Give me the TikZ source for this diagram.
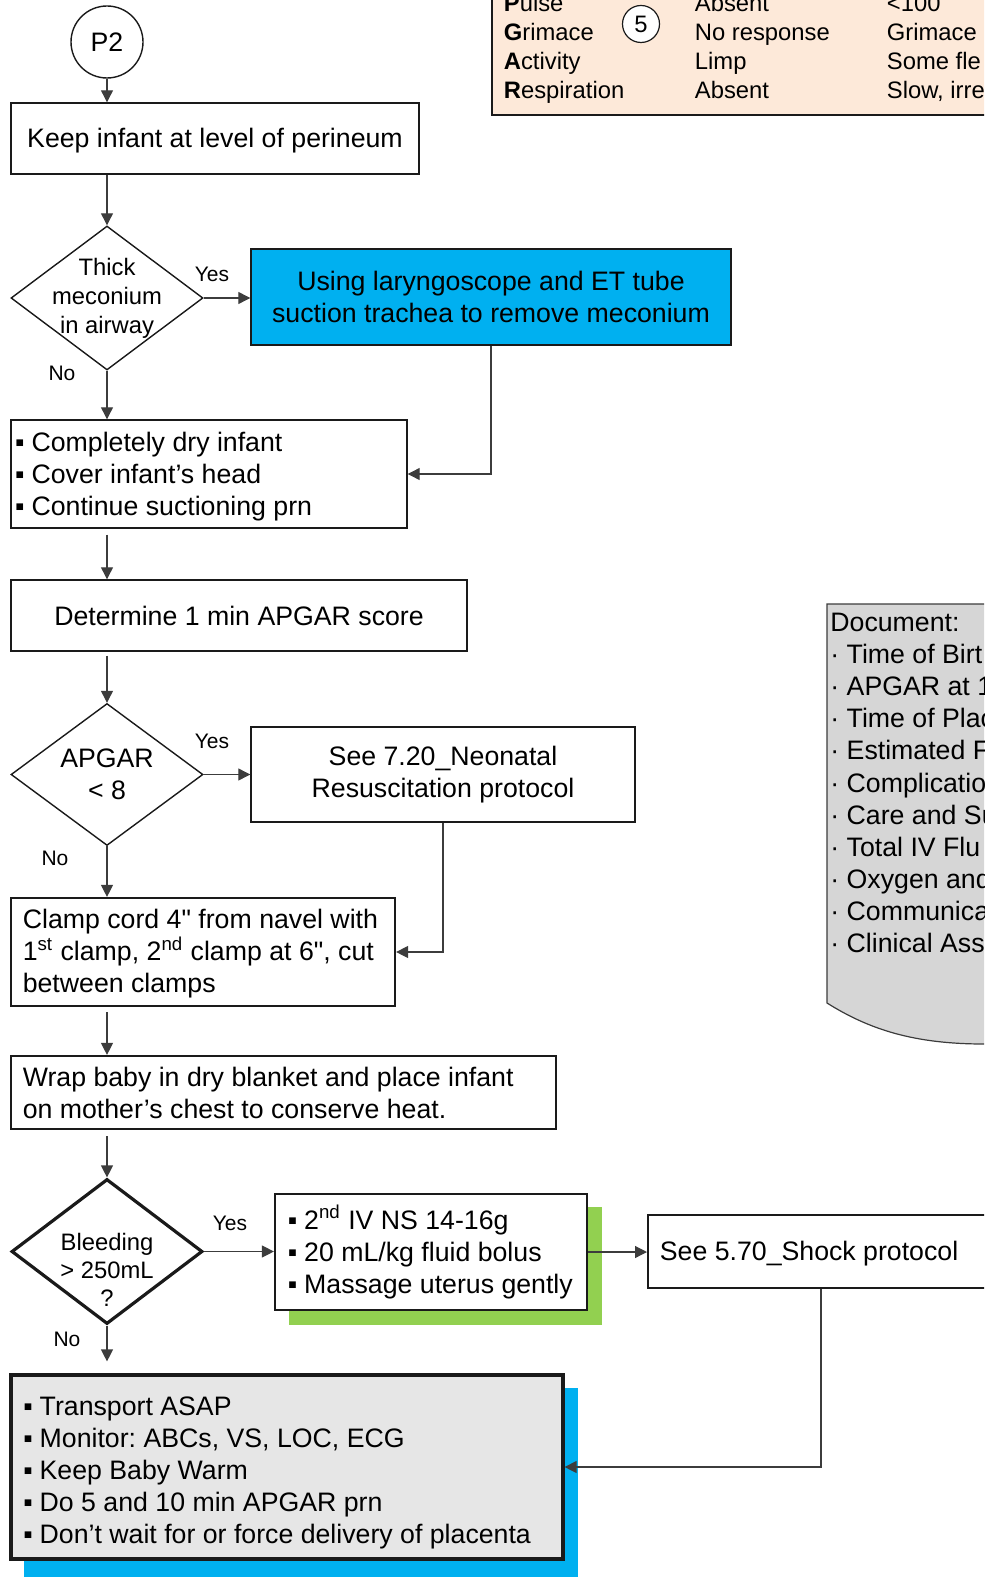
\documentclass[tikz,border=0pt]{standalone}
\usepackage{fontspec}
\setmainfont{Liberation Sans}[Ligatures=TeXOff]
\usetikzlibrary{shapes.geometric,arrows.meta,calc}

\definecolor{cyanfill}{HTML}{00B0F0}
\definecolor{greenshade}{HTML}{92D050}
\definecolor{peach}{HTML}{FDE9D9}
\definecolor{docgray}{HTML}{D6D6D6}
\definecolor{boxgray}{HTML}{E6E6E6}
\definecolor{edge}{HTML}{1A1A1A}
\definecolor{wire}{HTML}{3C3C3C}

\frenchspacing
\newcommand\mainsize{\fontsize{13.35pt}{16pt}\selectfont}
\newcommand\decsize{\fontsize{11.9pt}{14.5pt}\selectfont}
\newcommand\tabsize{\fontsize{11.9pt}{14.5pt}\selectfont}
\newcommand\labsize{\fontsize{10.5pt}{12pt}\selectfont}
% square bullet followed by a fixed indent
\newcommand\sqb{\makebox[8.2pt][l]{\char"25AA}}
% straight inch mark
\newcommand\inch{{\char"22}}

\begin{document}
\begin{tikzpicture}[x=0.5pt,y=-0.5pt,
  every node/.style={font=\mainsize, text=black},
  box/.style={rectangle, draw=edge, line width=0.7pt, fill=white, inner sep=0pt},
  boldbox/.style={box, line width=1.1pt},
  heavybox/.style={box, line width=1.6pt},
  decision/.style={diamond, draw=edge, line width=0.7pt, fill=white, inner sep=0pt},
  shade/.style={rectangle, inner sep=0pt, draw=none, anchor=north west},
  body/.style={inner sep=0pt, align=left},
  deck/.style={inner sep=0pt, align=center, font=\decsize},
  tab/.style={inner sep=0pt, anchor=base west, font=\tabsize},
  yesno/.style={inner sep=0pt, font=\labsize},
  wire/.style={draw=wire, line width=0.6pt},
  flow/.style={wire, -{Triangle[length=6pt,width=6pt]}},
]
\useasboundingbox (0,0) rectangle (984,1577);
\clip (0,0) rectangle (984,1577);

% main spine of the flow
\coordinate (spine) at (107,0);

% APGAR score table (top right)
\node[rectangle, draw=edge, line width=1.1pt, fill=peach, inner sep=0pt,
      anchor=north west, minimum width=259.5pt, minimum height=67pt] (apgartab) at (491,-20) {};
\node[tab] (r1a) at (503.5,12) {\textbf{P}ulse};
\node[tab] (r2a) at (503.5,41) {\textbf{G}rimace};
\node[tab] (r3a) at (503.5,70) {\textbf{A}ctivity};
\node[tab] (r4a) at (503.5,99) {\textbf{R}espiration};
\node[tab] (r1b) at (694.5,12) {Absent};
\node[tab] (r2b) at (694.5,41) {No response};
\node[tab] (r3b) at (694.5,70) {Limp};
\node[tab] (r4b) at (694.5,99) {Absent};
\node[tab] (r1c) at (886.5,12) {<100};
\node[tab] (r2c) at (886.5,41) {Grimace};
\node[tab] (r3c) at (886.5,70) {Some fle};
\node[tab] (r4c) at (886.5,99) {Slow, irre};
\node[circle, draw=edge, line width=0.6pt, fill=white, minimum size=18.5pt,
      inner sep=0pt, font=\tabsize] (five) at (641,24) {5};

% documentation sheet (right)
\filldraw[fill=docgray, draw=wire, line width=0.6pt]
  (827,1003) -- (827,604) -- (1010,604) -- (1010,1043) -- (984,1044)
  .. controls (915,1044) and (870,1030) .. (827,1003) -- cycle;
\foreach \t [count=\i from 0] in {Document:, · Time of Birt, · APGAR at 1,
    · Time of Plac, · Estimated F, · Complicatio, · Care and Su,
    · Total IV Flu, · Oxygen and, · Communica, · Clinical Ass}
  \node[inner sep=0pt, anchor=base west] (doc\i) at (830,{631.5+32.1*\i}) {\t};

% start
\node[circle, draw=edge, line width=0.7pt, minimum size=36pt, inner sep=0pt] (p2) at (107,42) {P2};

\node[box, minimum width=204pt, minimum height=35.5pt] (keep) at (215,138.5) {};
\node[inner sep=0pt] (keeptxt) at ([yshift=-1pt]keep.center) {Keep infant at level of perineum};

\node[decision, minimum width=96pt, minimum height=72pt] (thick) at (107,298) {};
\node[deck] (thicktxt) at (107,298) {Thick\\meconium\\in airway};

\node[box, fill=cyanfill, minimum width=240pt, minimum height=48pt, align=center] (suction) at (491,297)
  {Using laryngoscope and ET tube\\suction trachea to remove meconium};

\node[box, minimum width=198pt, minimum height=54pt] (dry) at (209,474) {};
\node[body, anchor=west] (drytxt) at ([xshift=2.25pt,yshift=-1.2pt]dry.west)
  {\sqb Completely dry infant\\\sqb Cover infant’s head\\\sqb Continue suctioning prn};

\node[box, minimum width=228pt, minimum height=35.5pt] (apgar1) at (239,615.5)
  {Determine 1 min APGAR score};

\node[decision, minimum width=96pt, minimum height=71pt] (low) at (107,774.5) {};
\node[inner sep=0pt, align=center] (lowtxt) at (107,774) {APGAR\\< 8};

\node[box, minimum width=192pt, minimum height=47.5pt, align=center] (neo) at (443,774.5)
  {See 7.20\_Neonatal\\Resuscitation protocol};

\node[boldbox, minimum width=192pt, minimum height=54pt] (clamp) at (203,952) {};
\node[body, anchor=west] (clamptxt) at ([xshift=6.25pt,yshift=-0.8pt]clamp.west)
  {Clamp cord 4\inch{} from navel with\\1\textsuperscript{st} clamp, 2\textsuperscript{nd} clamp at 6\inch, cut\\between clamps};

\node[boldbox, minimum width=272.5pt, minimum height=36.5pt] (wrap) at (283.5,1092.5) {};
\node[body, anchor=west] (wraptxt) at ([xshift=6.25pt]wrap.west)
  {Wrap baby in dry blanket and place infant\\on mother’s chest to conserve heat.};

\node[decision, line width=1.6pt, minimum width=95.5pt, minimum height=72.5pt] (bleed) at (107,1251.5) {};
\node[deck, font=\fontsize{11.9pt}{14pt}\selectfont] (bleedtxt) at (107,1270) {Bleeding\\> 250mL\\?};

\node[shade, fill=greenshade, minimum width=156.5pt, minimum height=59pt] (ivshade) at (289,1207) {};
\node[boldbox, minimum width=156pt, minimum height=58pt] (iv) at (431,1252) {};
\node[body, anchor=west] (ivtxt) at ([xshift=6.75pt]iv.west)
  {\sqb 2\textsuperscript{nd} IV NS 14-16g\\\sqb 20 mL/kg fluid bolus\\\sqb Massage uterus gently};

\node[boldbox, minimum width=181.5pt, minimum height=36.5pt, anchor=west] (shock) at (647,1251.5) {};
\node[inner sep=0pt, anchor=west] (shocktxt) at ([xshift=6.25pt,yshift=-1pt]shock.west) {See 5.70\_Shock protocol};

\node[shade, fill=cyanfill, minimum width=277pt, minimum height=100pt] (finalshade) at (24,1388) {};
\node[heavybox, fill=boxgray, minimum width=276pt, minimum height=92pt] (final) at (287,1467) {};
\node[body, anchor=west] (finaltxt) at ([xshift=6.75pt,yshift=-3.2pt]final.west)
  {\sqb Transport ASAP\\\sqb Monitor: ABCs, VS, LOC, ECG\\\sqb Keep Baby Warm\\\sqb Do 5 and 10 min APGAR prn\\\sqb Don’t wait for or force delivery of placenta};

% connectors
\draw[flow] (p2.south) -- (spine |- keep.north);
\draw[flow] (spine |- keep.south) -- (thick.north);
\draw[flow] (thick.east) -- (thick.east -| suction.west);
\draw[flow] (thick.south) -- (spine |- dry.north);
\draw[flow] (suction.south) |- (dry.east);
\draw[flow, shorten <=3pt] (spine |- dry.south) -- (spine |- apgar1.north);
\draw[flow, shorten <=2pt] (spine |- apgar1.south) -- (low.north);
\draw[flow] (low.east) -- (low.east -| neo.west);
\draw[flow] (low.south) -- (spine |- clamp.north);
\draw[flow] (neo.south) |- (clamp.east);
\draw[flow, shorten <=2.5pt] (spine |- clamp.south) -- (spine |- wrap.north);
\draw[flow, shorten <=3pt] (spine |- wrap.south) -- (bleed.north);
\draw[flow] (bleed.east) -- (bleed.east -| iv.west);
\draw[flow] (iv.east) -- (iv.east -| shock.west);
\draw[flow, shorten >=6pt] (bleed.south) -- (spine |- final.north);
\draw[flow] ([xshift=87pt]shock.south west) |- (final.east);

% branch labels
\node[yesno] (y1) at (212,274) {Yes};
\node[yesno] (n1) at (62,373) {No};
\node[yesno] (y2) at (212,741) {Yes};
\node[yesno] (n2) at (55,858) {No};
\node[yesno] (y3) at (230,1223) {Yes};
\node[yesno] (n3) at (67,1339) {No};
\end{tikzpicture}
\end{document}
